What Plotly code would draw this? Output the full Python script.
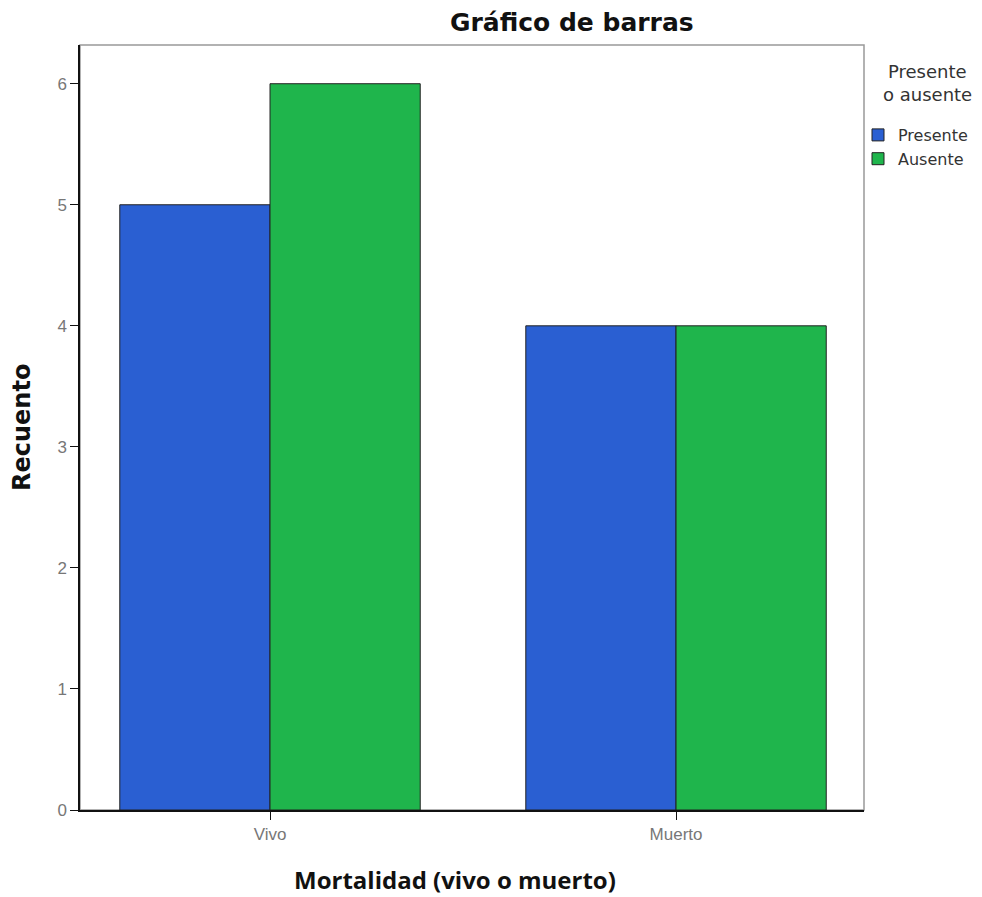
import plotly.graph_objects as go

categories = ["Vivo", "Muerto"]
presente = [5, 4]
ausente = [6, 4]
series_names = ["Presente", "Ausente"]
y_ticks = [0, 1, 2, 3, 4, 5, 6]

# page offset: the html body adds an 8px margin around the figure
PL, PT, PW, PH = 80, 45, 784, 765  # plot area in page pixels


def px(xp):
    return (xp - PL) / PW


def py(yp):
    return (PT + PH - yp) / PH


fig = go.Figure()
fig.add_trace(go.Bar(x=categories, y=presente, name=series_names[0],
                     marker=dict(color="#2a5fd2", line=dict(color="#222222", width=1))))
fig.add_trace(go.Bar(x=categories, y=ausente, name=series_names[1],
                     marker=dict(color="#1fb54c", line=dict(color="#222222", width=1))))

fig.update_layout(
    width=974, height=889,
    barmode="group", bargap=0.26, bargroupgap=0,
    paper_bgcolor="white", plot_bgcolor="white",
    margin=dict(l=72, r=118, t=37, b=87, autoexpand=False),
    font=dict(family="Liberation Sans, Arial, sans-serif", color="#222"),
    legend=dict(x=px(858), xanchor="left", y=py(118), yanchor="top",
                font=dict(family="DejaVu Sans", size=16, color="#333"), itemwidth=30, tracegroupgap=0,
                bgcolor="rgba(0,0,0,0)"),
    xaxis=dict(range=[-0.468, 1.463], showline=True, linecolor="#111", linewidth=1.5,
               ticks="outside", ticklen=8, tickcolor="#111", automargin=False,
               tickfont=dict(size=17, color="#777")),
    yaxis=dict(range=[0, 6.32], tickvals=y_ticks, showline=True, linecolor="#111", linewidth=1.5,
               ticks="outside", ticklen=8, tickcolor="#111", showgrid=False, zeroline=False,
               automargin=False, tickfont=dict(size=17, color="#777")),
)
fig.add_shape(type="rect", xref="paper", yref="paper", x0=0, y0=0, x1=1, y1=1,
              line=dict(color="#999", width=1.5), layer="below")
fig.add_annotation(text="<b>Gráfico de barras</b>", xref="paper", yref="paper",
                   x=px(572), y=py(22), xanchor="center", yanchor="middle",
                   showarrow=False, font=dict(family="DejaVu Sans", size=25, color="#111"))
fig.add_annotation(text="<b>Recuento</b>", xref="paper", yref="paper", textangle=-90,
                   x=px(22), y=py(428), xanchor="center", yanchor="middle",
                   showarrow=False, font=dict(family="DejaVu Sans", size=24, color="#111"))
fig.add_annotation(text="<b>Mortalidad (vivo o muerto)</b>", xref="paper", yref="paper",
                   x=px(455), y=py(880), xanchor="center", yanchor="middle",
                   showarrow=False, font=dict(family="Open Sans", size=24, color="#111"))
fig.add_annotation(text="Presente", xref="paper", yref="paper",
                   x=px(927), y=py(72), xanchor="center", yanchor="middle",
                   showarrow=False, font=dict(family="DejaVu Sans", size=18, color="#333"))
fig.add_annotation(text="o ausente", xref="paper", yref="paper",
                   x=px(927), y=py(94), xanchor="center", yanchor="middle",
                   showarrow=False, font=dict(family="DejaVu Sans", size=18, color="#333"))
fig.write_html("out.html")
